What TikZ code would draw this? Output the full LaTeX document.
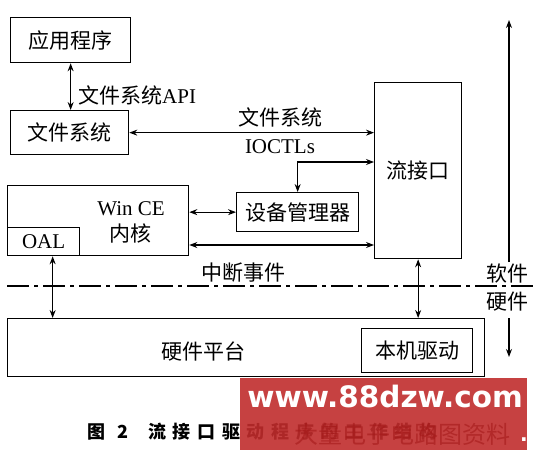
\documentclass[tikz,border=0pt]{standalone}
\usepackage{fontspec}
\setmainfont{Liberation Serif}
\newfontfamily\cjk{Noto Sans CJK SC}
\newfontfamily\cjkcap[LetterSpace=37]{Noto Sans CJK SC}
\newfontfamily\wmfont{DejaVu Sans}
\usetikzlibrary{arrows.meta}
\definecolor{wmred}{RGB}{192,44,44}
\definecolor{wmdark}{RGB}{165,25,25}
\tikzset{
  box/.style={draw, line width=1.3pt, inner sep=0pt},
  txt/.style={font=\fontsize{21}{24}\selectfont\cjk, inner sep=0pt},
  ltxt/.style={font=\fontsize{21}{24}\selectfont, inner sep=0pt},
  tip/.tip={Stealth[length=8pt,width=6pt]},
  arr/.style={line width=1.1pt, tip-tip},
  uarr/.style={line width=1.1pt, -tip},
  divider/.style={line width=1.1pt, dash pattern=on 22pt off 5pt on 4pt off 5pt}
}
\begin{document}
\begin{tikzpicture}[x=1pt,y=-1pt]
\useasboundingbox (0,0) rectangle (536,450);
% boxes
\node[box, txt, minimum width=120pt, minimum height=45pt, anchor=north west] (app) at (10,17) {应用程序};
\node[box, txt, minimum width=118pt, minimum height=44pt, anchor=north west] (fs) at (10,110) {文件系统};
\node[box, txt, minimum width=87pt, minimum height=176pt, anchor=north west] (stream) at (374,82) {流接口};
\node[box, minimum width=181pt, minimum height=70pt, anchor=north west] (wince) at (7,185) {};
\node[box, ltxt, minimum width=72pt, minimum height=28pt, anchor=south west] (oal) at (wince.south west) {OAL};
\node[ltxt] (wintxt) at (131,209) {Win CE};
\node[txt] (neihe) at (130,233) {内核};
\node[box, txt, minimum width=122pt, minimum height=39pt, anchor=north west] (dev) at (236,192) {设备管理器};
\node[box, minimum width=477pt, minimum height=58pt, anchor=north west] (hw) at (7,318) {};
\node[txt] (hwtxt) at (203,351) {硬件平台};
\node[box, txt, minimum width=111pt, minimum height=44pt, anchor=north west] (native) at (361,328) {本机驱动};
% labels
\node[txt, anchor=west] (apilbl) at (78,95) {文件系统\fontsize{21}{24}\selectfont\rmfamily API};
\node[txt] (fsl1) at (280,117) {文件系统};
\node[ltxt] (fsl2) at (280,147) {IOCTLs};
\node[txt] (intl) at (243,273) {中断事件};
\node[txt] (swl) at (507,274) {软件};
\node[txt] (hwl) at (507,302) {硬件};
% connectors
\draw[arr] (app.south) -- (app.south |- fs.north);
\draw[arr] (fs.east) -- (fs.east -| stream.west);
\draw[arr] (dev.north) |- (stream.west |- 0,162);
\draw[arr] (dev.west -| wince.east) -- (dev.west);
\draw[arr] (wince.east |- 0,245) -- (stream.west |- 0,245);
\draw[arr] ([xshift=9pt]oal.south) -- ([xshift=9pt]oal.south |- hw.north);
\draw[arr] (stream.south) -- (stream.south |- hw.north);
% divider
\coordinate (dl) at (7,286);
\coordinate (dr) at (533,286);
\draw[divider] (dl) -- (dr);
% software / hardware arrows
\coordinate (swbot) at (509,262);
\coordinate (swtop) at (509,20);
\coordinate (hwtop) at (509,318);
\coordinate (hwbot) at (509,357);
\draw[uarr] (swbot) -- (swtop);
\draw[uarr] (hwtop) -- (hwbot);
% caption
\node[anchor=west, inner sep=0pt, font=\fontsize{18}{20}\selectfont\cjkcap\bfseries] (cap) at (87,432) {图\hspace{12pt}2\hspace{20pt}流接口驱动程序的工作结构};
% watermark
\fill[wmred, fill opacity=0.9] (240,378) rectangle (527,450);
\node[inner sep=0pt, text=wmdark, font=\fontsize{24}{26}\selectfont\cjk, opacity=0.6] (wm3) at (402,434) {大量电子电路图资料};
\node[inner sep=0pt, text=white, font=\fontsize{29.5}{31}\selectfont\wmfont\bfseries] (wm) at (385,396) {www.88dzw.com};
\node[inner sep=0pt, text=white, font=\fontsize{20}{20}\selectfont\wmfont\bfseries] (wmdot) at (524,440) {.};
\end{tikzpicture}
\end{document}
